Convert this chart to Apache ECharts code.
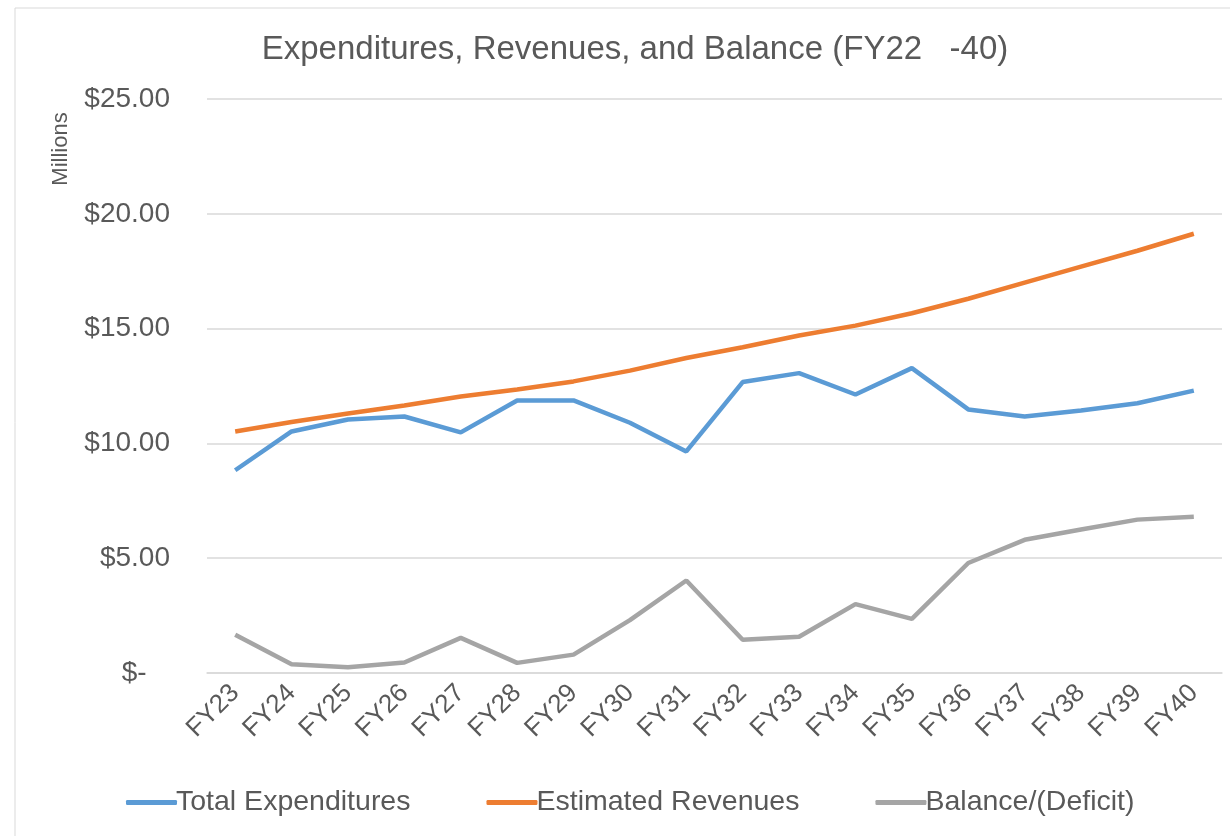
<!DOCTYPE html>
<html>
<head>
<meta charset="utf-8">
<script src="https://cdn.jsdelivr.net/npm/echarts@6/dist/echarts.min.js"></script>
<style>
  html, body { margin: 0; padding: 0; background: #fff; }
  #chart { width: 1230px; height: 836px; }
</style>
</head>
<body>
<div id="chart"></div>
<script>
const years = ['FY23', 'FY24', 'FY25', 'FY26', 'FY27', 'FY28', 'FY29', 'FY30', 'FY31',
    'FY32', 'FY33', 'FY34', 'FY35', 'FY36', 'FY37', 'FY38', 'FY39', 'FY40'];
const expenditures = [8.83, 10.52, 11.04, 11.17, 10.48, 11.87, 11.87, 10.9, 9.65,
    12.67, 13.06, 12.13, 13.28, 11.48, 11.17, 11.43, 11.75, 12.3];
const revenues = [10.52, 10.93, 11.3, 11.65, 12.04, 12.35, 12.7, 13.17, 13.72,
    14.19, 14.7, 15.13, 15.67, 16.3, 17.0, 17.7, 18.39, 19.13];
const balance = [1.67, 0.38, 0.25, 0.46, 1.53, 0.44, 0.8, 2.3, 4.03,
    1.45, 1.58, 3.0, 2.36, 4.79, 5.8, 6.25, 6.68, 6.8];
const yTicks = {min: 0, max: 25, step: 5};

const textColor = '#595959';
const font = 'Liberation Sans, Arial, sans-serif';

const chart = echarts.init(document.getElementById('chart'));
chart.setOption({
    animation: false,
    color: ['#5B9BD5', '#ED7D31', '#A5A5A5'],
    title: {
        text: 'Expenditures, Revenues, and Balance (FY22   -40)',
        left: 630,
        textAlign: 'center',
        top: 28,
        textStyle: {fontFamily: font, fontSize: 33, fontWeight: 'normal', color: textColor}
    },
    graphic: [
        {
            type: 'rect',
            shape: {x: 15, y: 8, width: 1240, height: 860},
            style: {fill: 'none', stroke: '#d9d9d9', lineWidth: 1}
        },
        {
            type: 'text',
            x: 61, y: 149,
            rotation: Math.PI / 2,
            style: {
                text: 'Millions', fontFamily: font, fontSize: 22, fill: textColor,
                align: 'center', verticalAlign: 'middle'
            }
        }
    ],
    legend: {
        bottom: 14,
        left: 121,
        itemGap: 76,
        itemWidth: 51,
        itemHeight: 5,
        icon: 'roundRect',
        textStyle: {fontFamily: font, fontSize: 28.5, color: textColor, padding: [0, 0, 0, -6]},
        data: ['Total Expenditures', 'Estimated Revenues', 'Balance/(Deficit)']
    },
    grid: {left: 207, right: 8, top: 99, bottom: 163},
    xAxis: {
        type: 'category',
        data: years,
        boundaryGap: true,
        axisLine: {lineStyle: {color: '#d9d9d9', width: 1.5}},
        axisTick: {show: false},
        axisLabel: {
            rotate: 45, margin: 16,
            fontFamily: font, fontSize: 26, color: textColor
        }
    },
    yAxis: {
        type: 'value',
        min: yTicks.min,
        max: yTicks.max,
        interval: yTicks.step,
        axisLine: {show: false},
        axisTick: {show: false},
        splitLine: {lineStyle: {color: '#d9d9d9', width: 1.5}},
        axisLabel: {
            margin: 37,
            fontFamily: font, fontSize: 28, color: textColor,
            formatter: v => v === 0 ? '$-   ' : '$' + v.toFixed(2)
        }
    },
    series: [
        {name: 'Total Expenditures', type: 'line', data: expenditures, showSymbol: false, lineStyle: {width: 4.5}},
        {name: 'Estimated Revenues', type: 'line', data: revenues, showSymbol: false, lineStyle: {width: 4.5}},
        {name: 'Balance/(Deficit)', type: 'line', data: balance, showSymbol: false, lineStyle: {width: 4.5}}
    ]
});
</script>
</body>
</html>
